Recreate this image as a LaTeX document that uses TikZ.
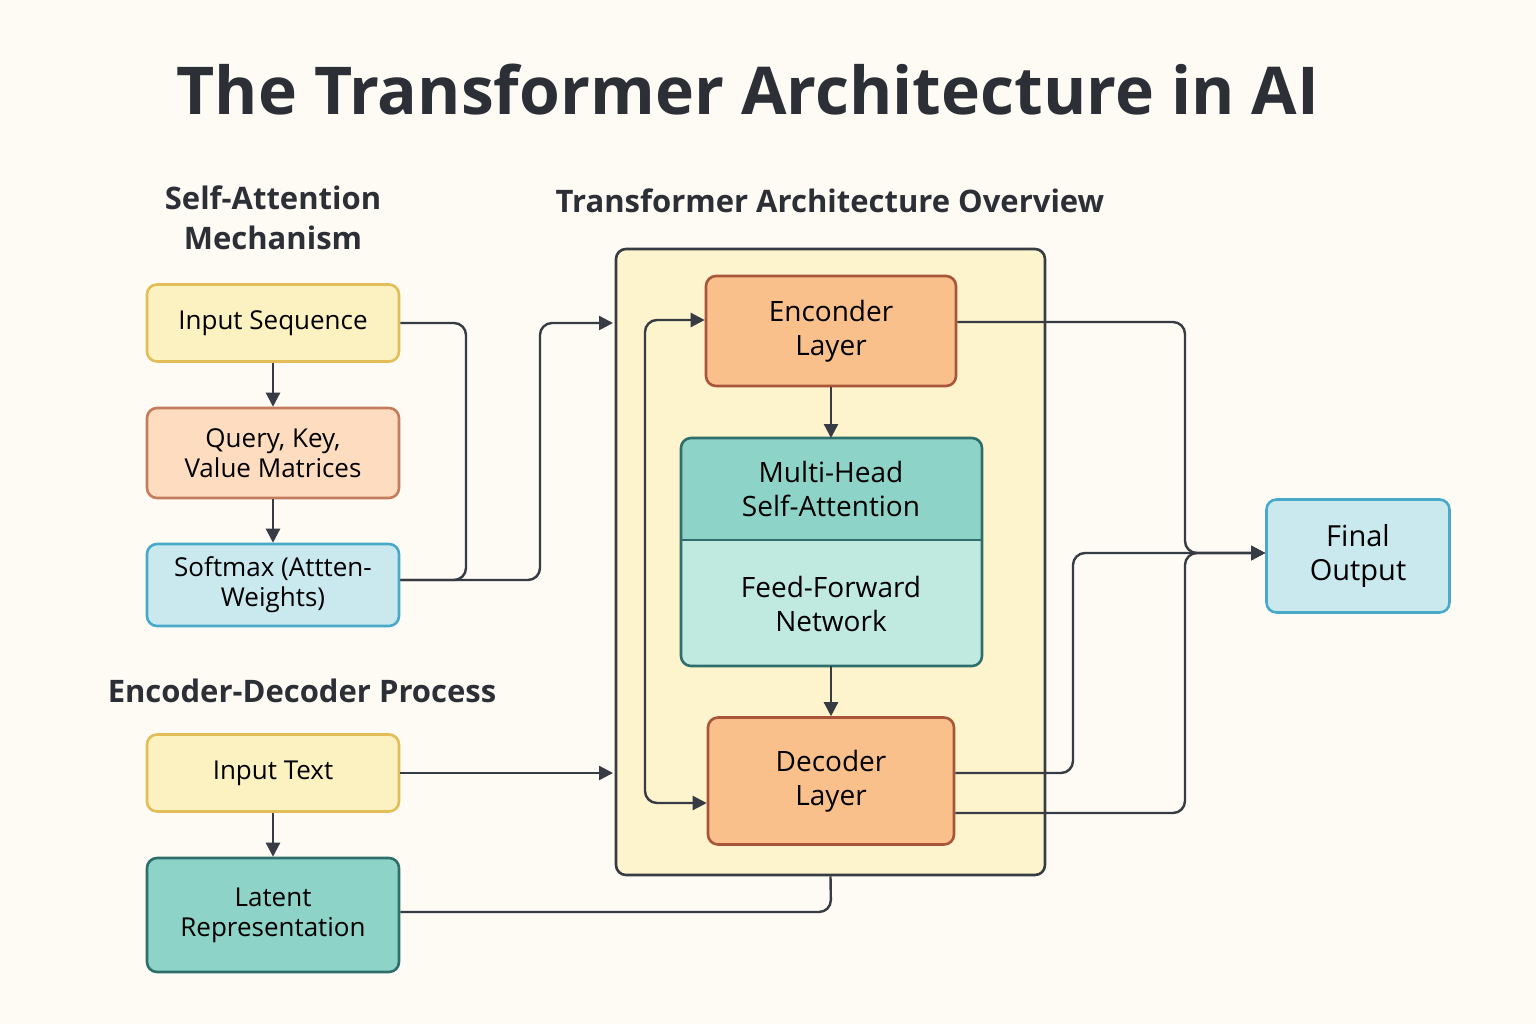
\documentclass[tikz,border=0pt]{standalone}
\usepackage{fontspec}
\setmainfont{Open Sans}
\usetikzlibrary{arrows.meta}
\definecolor{bg}{HTML}{FDFBF4}
\definecolor{yf}{HTML}{FCF1C0}\definecolor{yd}{HTML}{E3BE58}
\definecolor{of}{HTML}{FDDCBF}\definecolor{od}{HTML}{C47C5C}
\definecolor{bf}{HTML}{C9E9EF}\definecolor{bd}{HTML}{4AA9C8}
\definecolor{tf}{HTML}{8ED3C7}\definecolor{td}{HTML}{2E6F6E}
\definecolor{lf}{HTML}{C0E9E0}
\definecolor{sf}{HTML}{F9C08C}\definecolor{sd}{HTML}{A8553A}
\definecolor{big}{HTML}{FDF3CC}\definecolor{ln}{HTML}{373B44}
\begin{document}
\begin{tikzpicture}[x=0.5pt,y=-0.5pt,
 box/.style={draw,line width=1.3pt,rounded corners=5pt,align=center,font=\fontsize{13}{15}\selectfont,inner sep=0pt},
 bbox/.style={box,font=\fontsize{14}{17}\selectfont\bfseries\mdseries\selectfont},
 conn/.style={draw=ln,line width=1.2pt,rounded corners=6pt},
 arr/.style={conn,-{Triangle[length=7pt,width=7pt]}},
 hd/.style={font=\fontsize{15.5}{20}\selectfont\bfseries,text=ln!80!black,align=center}]
\fill[bg] (0,0) rectangle (1536,1024);
\node[font=\fontsize{33}{40}\selectfont\bfseries,text=ln!80!black] (title) at (748,90) {The Transformer Architecture in AI};
\node[hd] (h1) at (273,218) {Self-Attention\\Mechanism};
\node[hd] (h2) at (830,201) {Transformer Architecture Overview};
\node[hd] (h3) at (302,691) {Encoder-Decoder Process};
\node[draw=ln,line width=1.3pt,fill=big,rounded corners=5pt,minimum width=429pt*0.5,minimum height=626pt*0.5] (frame) at (830.5,562) {};
\node[box,fill=yf,draw=yd,minimum width=126pt,minimum height=38.5pt] (is) at (273,323) {Input Sequence};
\node[box,fill=of,draw=od,minimum width=126pt,minimum height=45pt] (qkv) at (273,453) {Query, Key,\\Value Matrices};
\node[box,fill=bf,draw=bd,minimum width=126pt,minimum height=41pt] (sm) at (273,585) {Softmax (Attten-\\ Weights)};
\node[box,fill=yf,draw=yd,minimum width=126pt,minimum height=38.5pt] (it) at (273,773) {Input Text};
\node[box,fill=tf,draw=td,minimum width=126pt,minimum height=57pt] (lr) at (273,915) {Latent\\Representation};
\node[box,fill=sf,draw=sd,minimum width=125pt,minimum height=55pt,font=\fontsize{14}{17}\selectfont] (enc) at (831,331) {Enconder\\Layer};
\node[box,fill=sf,draw=sd,minimum width=123pt,minimum height=63.5pt,font=\fontsize{14}{17}\selectfont] (dec) at (831,781) {Decoder\\Layer};
\node[box,fill=bf,draw=bd,minimum width=91.5pt,minimum height=56.5pt,font=\fontsize{14.5}{17}\selectfont] (fo) at (1358,556) {Final\\Output};
\fill[lf,rounded corners=5pt] (681,438) rectangle (982,666);
\fill[tf,rounded corners=5pt] (681,438) rectangle (982,540);
\fill[tf] (681,500) rectangle (982,540);
\draw[td,line width=1.3pt,rounded corners=5pt] (681,438) rectangle (982,666);
\draw[td,line width=1.3pt] (681,540) -- (982,540);
\node[font=\fontsize{14}{17}\selectfont,align=center] (mh) at (831,489) {Multi-Head\\Self-Attention};
\node[font=\fontsize{14}{17}\selectfont,align=center] (ff) at (831,604) {Feed-Forward\\Network};
\coordinate (mtop) at (831,438); \coordinate (mbot) at (831,666);
% left connectors
\draw[arr] (is) -- (qkv);
\draw[arr] (qkv) -- (sm);
\draw[arr] (it) -- (lr);
\draw[conn] (is.east) -- (466,323) -- (466,580) -- (sm.east |- 0,580);
\draw[arr] (sm.east |- 0,580) -- (540,580) -- (540,323) -- (613,323);
\draw[arr] (it.east) -- (613,773);
\draw[conn] (lr.east |- 0,912) -- (831,912) -- (frame.south);
% inside
\draw[arr] (enc) -- (mtop);
\draw[arr] (mbot) -- (dec);
\draw[conn,{Triangle[length=7pt,width=7pt]}-{Triangle[length=7pt,width=7pt]}] (enc.west |- 0,320) -- (645,320) -- (645,803) -- (dec.west |- 0,803);
% to output
\draw[arr] (enc.east |- 0,322) -- (1185,322) -- (1185,553) -- (fo.west |- 0,553);
\draw[arr] (dec.east |- 0,773) -- (1073,773) -- (1073,553) -- (fo.west |- 0,553);
\draw[arr] (dec.east |- 0,813) -- (1185,813) -- (1185,553) -- (fo.west |- 0,553);
\end{tikzpicture}
\end{document}
